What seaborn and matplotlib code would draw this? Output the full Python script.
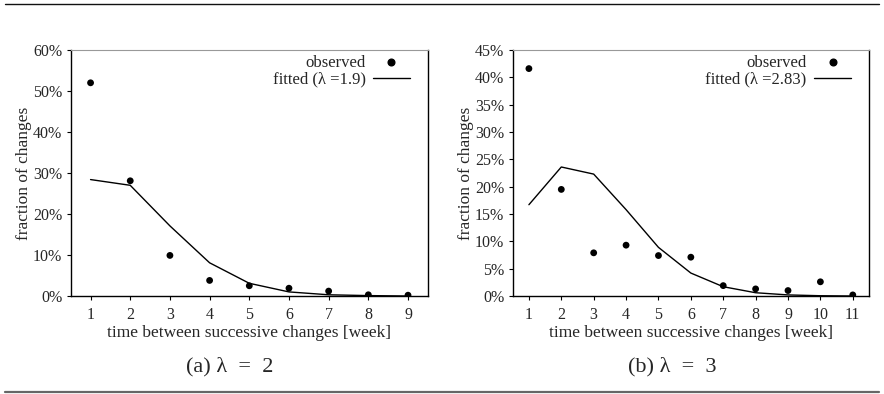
import seaborn as sns
import matplotlib.pyplot as plt
import matplotlib.ticker as mticker
from matplotlib.lines import Line2D
import pandas as pd

# panel (a)
weeks_a = [1, 2, 3, 4, 5, 6, 7, 8, 9]
observed_a = [52.0, 28.1, 9.9, 3.8, 2.5, 1.9, 1.2, 0.3, 0.2]
fitted_a = [28.4, 27.0, 17.1, 8.1, 3.1, 1.0, 0.3, 0.1, 0.0]

# panel (b)
weeks_b = [1, 2, 3, 4, 5, 6, 7, 8, 9, 10, 11]
observed_b = [41.6, 19.5, 7.9, 9.3, 7.4, 7.1, 1.9, 1.3, 1.0, 2.6, 0.2]
fitted_b = [16.7, 23.6, 22.3, 15.8, 8.9, 4.2, 1.7, 0.6, 0.2, 0.05, 0.0]

sns.set_style("ticks")
plt.rcParams['font.family'] = ['Liberation Serif', 'DejaVu Serif']

fig = plt.figure(figsize=(8.84, 3.94), dpi=100)
ax_a = fig.add_axes([0.080, 0.2487, 0.404, 0.6244])
ax_b = fig.add_axes([0.580, 0.2487, 0.403, 0.6244])


def panel(ax, weeks, obs, fit, lam, ymax, ystep):
	df = pd.DataFrame({'week': weeks, 'observed': obs, 'fitted': fit})
	sns.lineplot(data=df, x='week', y='fitted', ax=ax, color='black', lw=1.0)
	sns.scatterplot(data=df, x='week', y='observed', ax=ax, color='black',
		s=24, edgecolor='none', zorder=3)
	ax.set_xlim(0.5, len(weeks) + 0.5)
	ax.set_ylim(0, ymax)
	ax.set_xticks(weeks)
	ax.set_yticks(range(0, ymax + 1, ystep))
	ax.yaxis.set_major_formatter(mticker.FuncFormatter(lambda v, p: f'{v:.0f}%'))
	ax.tick_params(labelsize=11.5, length=3, width=0.8, color='black', pad=3)
	ax.tick_params(axis='x', pad=5)
	ax.set_xlabel('time between successive changes [week]', fontsize=12.5, labelpad=1)
	ax.set_ylabel('fraction of changes', fontsize=12.5, labelpad=1)
	for s in ['left', 'bottom', 'right']:
		ax.spines[s].set_color('black')
		ax.spines[s].set_linewidth(1.0)
	ax.spines['top'].set_color('#999999')
	ax.spines['top'].set_linewidth(0.8)
	handles = [
		Line2D([], [], marker='o', ls='none', color='black', markersize=4.8),
		Line2D([], [], color='black', lw=1.0),
	]
	ax.legend(handles, ['observed', 'fitted (λ =' + lam + ')'], loc='upper right',
		frameon=False, markerfirst=False, fontsize=12, labelspacing=0.0,
		handlelength=2.2, handletextpad=0.45, borderaxespad=0.0,
		bbox_to_anchor=(0.968, 1.005))


panel(ax_a, weeks_a, observed_a, fitted_a, '1.9', 60, 10)
panel(ax_b, weeks_b, observed_b, fitted_b, '2.83', 45, 5)

fig.text(230 / 884, 1 - 367 / 394, '(a) λ  =  2', ha='center', va='center', fontsize=16)
fig.text(672 / 884, 1 - 367 / 394, '(b) λ  =  3', ha='center', va='center', fontsize=16)

fig.add_artist(Line2D([5 / 884, 879 / 884], [1 - 4 / 394] * 2, color='#111111', lw=1.0, transform=fig.transFigure))
fig.add_artist(Line2D([5 / 884, 879 / 884], [1 - 392 / 394] * 2, color='#666666', lw=1.6, transform=fig.transFigure))

fig.savefig('out.png', dpi=100)
